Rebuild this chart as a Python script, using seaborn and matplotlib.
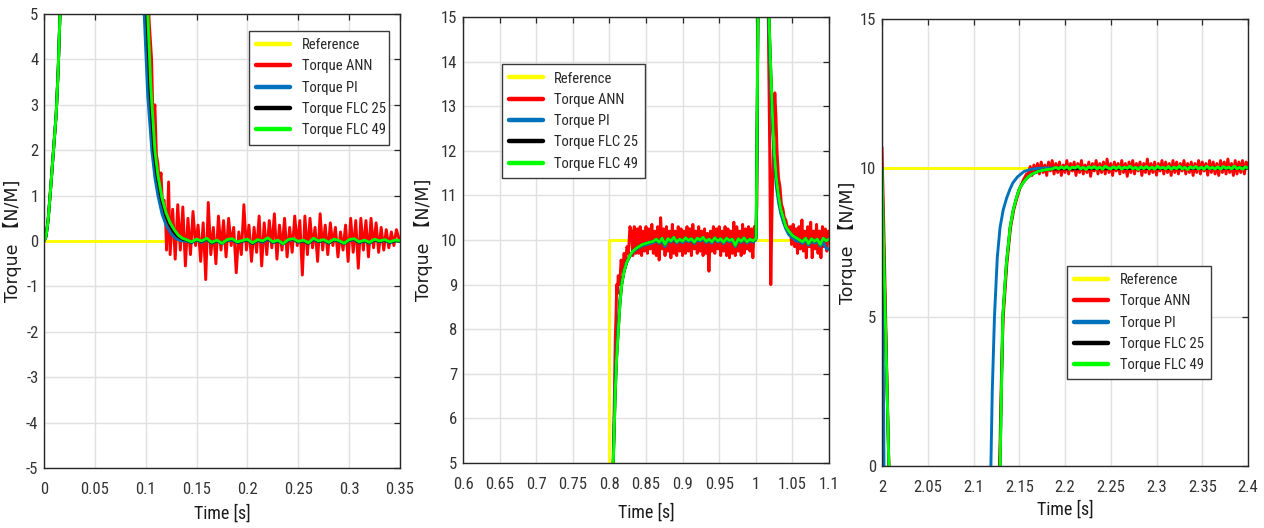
import numpy as np
import pandas as pd
import matplotlib
matplotlib.use("Agg")
import matplotlib.pyplot as plt
from matplotlib import font_manager as fm
import seaborn as sns

# ---------------------------------------------------------------- data
SERIES = ["Reference", "Torque ANN", "Torque PI", "Torque FLC 25", "Torque FLC 49"]
COLORS = {"Reference": "#FFFF00", "Torque ANN": "#FF0000", "Torque PI": "#0072BD",
          "Torque FLC 25": "#000000", "Torque FLC 49": "#00FF00"}

# ---- window 1: start-up, 0 .. 0.35 s
t_ref_1 = [0.0, 0.35]
ref_1 = [0.0, 0.0]

t_rise_1 = [0.000, 0.002, 0.004, 0.006, 0.008, 0.010, 0.012, 0.014, 0.016, 0.018, 0.030, 0.060]
y_rise_1 = [0.0, 0.1, 0.45, 1.0, 1.6, 2.2, 2.8, 3.8, 5.2, 7.0, 22.0, 25.0]

t_ann_dec_1 = [0.090, 0.100, 0.1035, 0.1058, 0.1072, 0.109, 0.1105, 0.112, 0.1135, 0.115,
               0.1165, 0.118, 0.1195, 0.1205, 0.1225]
ann_dec_1 = [14.0, 6.5, 4.8, 4.0, 2.6, 3.0, 1.9, 1.7, 1.2, 1.5, 0.8, 0.9, 0.5, -0.2, 1.3]
ann_noise_1_start, ann_noise_1_step = 0.124, 0.0025
ann_noise_1 = [-0.3, 0.7, -0.4, 0.8, -0.2, 0.75, -0.55, 0.5, -0.3, 0.65,
               -0.1, 0.35, -0.45, 0.4, -0.85, 0.85, -0.3, 0.3, -0.5, 0.55,
               -0.2, 0.45, -0.35, 0.5, -0.1, 0.3, -0.7, 0.2, -0.3, 0.8,
               -0.2, 0.35, -0.45, 0.3, -0.25, 0.55, -0.55, 0.4, -0.3, 0.45,
               -0.15, 0.6, -0.4, 0.35, -0.2, 0.5, -0.35, 0.3, -0.25, 0.55,
               -0.1, 0.45, -0.75, 0.55, -0.3, 0.5, -0.15, 0.3, -0.45, 0.6,
               -0.2, 0.35, -0.3, 0.4, -0.1, 0.3, -0.35, 0.2, -0.2, 0.35,
               -0.45, 0.5, -0.25, 0.45, -0.6, 0.5, -0.2, 0.45, -0.35, 0.5,
               -0.15, 0.4, -0.25, 0.3, -0.2, 0.25, -0.15, 0.2, -0.1, 0.25, 0.05]

t_pi_dec_1 = [0.088, 0.095, 0.0985, 0.102, 0.106, 0.109, 0.112, 0.116, 0.120, 0.125, 0.130, 0.135]
pi_dec_1 = [14.0, 7.0, 5.0, 3.2, 2.0, 1.4, 1.0, 0.6, 0.35, 0.16, 0.05, 0.0]
t_flc25_dec_1 = [0.089, 0.097, 0.101, 0.104, 0.108, 0.111, 0.115, 0.119, 0.123, 0.127, 0.131, 0.136]
flc25_dec_1 = [14.0, 7.0, 5.0, 3.4, 2.0, 1.45, 0.95, 0.6, 0.38, 0.22, 0.11, 0.04]
t_flc49_dec_1 = [0.090, 0.098, 0.102, 0.105, 0.109, 0.112, 0.116, 0.120, 0.124, 0.128, 0.132, 0.136]
flc49_dec_1 = [14.0, 7.0, 5.0, 3.4, 2.0, 1.45, 0.95, 0.62, 0.40, 0.25, 0.13, 0.06]

noise_1_start, noise_1_step = 0.140, 0.005
pi_noise_1 = [0.00, -0.04, 0.02, -0.03, 0.03, -0.05, 0.00, -0.06, 0.01, 0.02,
              -0.04, -0.01, 0.02, -0.06, 0.01, -0.03, 0.04, -0.04, 0.00, -0.07,
              0.01, 0.03, -0.03, 0.00, -0.05, 0.03, -0.02, 0.01, -0.05, 0.02,
              -0.01, -0.06, 0.01, 0.03, -0.04, 0.00, -0.05, 0.02, -0.02, 0.01,
              -0.04, 0.00, -0.01]
flc25_noise_1 = [0.02, -0.03, 0.03, -0.01, 0.05, -0.04, 0.01, -0.05, 0.02, 0.04,
                 -0.03, 0.00, 0.03, -0.05, 0.02, -0.01, 0.06, -0.03, 0.01, -0.06,
                 0.02, 0.04, -0.02, 0.01, -0.05, 0.05, -0.01, 0.02, -0.04, 0.03,
                 0.00, -0.05, 0.02, 0.04, -0.03, 0.01, -0.04, 0.03, -0.01, 0.02,
                 -0.03, 0.01, 0.00]
flc49_noise_1 = [0.03, -0.02, 0.04, 0.00, 0.06, -0.03, 0.02, -0.05, 0.03, 0.05,
                 -0.02, 0.01, 0.04, -0.04, 0.03, 0.00, 0.07, -0.02, 0.02, -0.06,
                 0.03, 0.05, -0.01, 0.02, -0.04, 0.06, 0.00, 0.03, -0.03, 0.04,
                 0.01, -0.05, 0.03, 0.05, -0.02, 0.02, -0.03, 0.04, 0.00, 0.03,
                 -0.02, 0.02, 0.01]

# ---- window 2: load step at 0.8 s and disturbance at 1.0 s
t_ref_2 = [0.6, 0.8, 0.8, 1.1]
ref_2 = [0.0, 0.0, 10.0, 10.0]

t_ann_rise_2 = [0.600, 0.8015, 0.8035, 0.806, 0.808, 0.809, 0.810, 0.811, 0.812, 0.814,
                0.816, 0.818, 0.820, 0.822, 0.824, 0.826, 0.828]
ann_rise_2 = [0.0, 0.0, 3.0, 5.6, 7.8, 8.3, 9.0, 8.8, 9.2, 9.0,
              9.55, 9.3, 9.7, 9.5, 9.85, 9.7, 10.3]
ann_noise_2a_start, ann_noise_2a_step = 0.830, 0.002
ann_noise_2a = [10.2, 9.65, 10.3, 9.7, 10.25, 9.7, 10.3, 9.65, 10.2, 9.75,
                10.3, 9.7, 10.25, 9.8, 10.35, 9.7, 10.2, 9.65, 10.3, 9.55,
                10.5, 9.8, 10.25, 9.65, 10.3, 9.75, 10.2, 9.6, 10.35, 9.7,
                10.2, 9.65, 10.3, 9.75, 10.25, 9.65, 10.2, 9.7, 10.3, 9.75,
                10.25, 9.65, 10.35, 9.8, 10.2, 9.7, 10.3, 9.75, 10.2, 9.65,
                10.25, 9.7, 10.15, 9.3, 10.2, 9.75, 10.3, 9.7, 10.25, 9.8,
                10.3, 9.65, 10.2, 9.75, 10.3, 9.65, 10.25, 9.6, 10.2, 9.7,
                10.4, 9.65, 10.3, 9.75, 10.2, 9.65, 10.35, 9.7, 10.25, 9.8,
                10.3, 9.75, 10.25, 9.6, 10.3, 10.1]
t_ann_spike_2 = [1.0015, 1.003, 1.006, 1.012, 1.0155, 1.017, 1.019, 1.0205, 1.022, 1.0245,
                 1.026, 1.0275, 1.029, 1.031, 1.033, 1.035, 1.037, 1.039, 1.041, 1.043, 1.045]
ann_spike_2 = [10.8, 15.5, 22.0, 22.0, 17.0, 15.0, 12.0, 9.0, 10.5, 12.5,
               13.3, 12.8, 12.0, 11.4, 11.2, 10.8, 10.7, 10.5, 10.45, 10.3, 10.25]
ann_noise_2b_start, ann_noise_2b_step = 1.047, 0.002
ann_noise_2b = [10.3, 9.9, 10.35, 9.85, 10.25, 9.7, 10.3, 9.8, 10.45, 9.75,
                10.2, 9.6, 10.3, 9.85, 10.4, 9.6, 10.2, 9.8, 10.35, 9.7,
                10.2, 9.6, 10.3, 9.85, 10.25, 9.75, 10.2]

t_rise_2 = [0.600, 0.8015, 0.8035, 0.8053, 0.808, 0.810, 0.8122, 0.8145, 0.8168, 0.820,
            0.8236, 0.828, 0.832, 0.837, 0.845, 0.855]
flc_rise_2 = [0.0, 0.0, 3.0, 5.0, 6.6, 7.4, 8.0, 8.6, 9.0, 9.3,
              9.5, 9.65, 9.75, 9.82, 9.9, 9.95]
pi_rise_2 = [0.0, 0.0, 3.2, 5.2, 6.8, 7.6, 8.2, 8.7, 9.05, 9.3,
             9.5, 9.63, 9.72, 9.8, 9.87, 9.92]
t_spike_2 = [1.0005, 1.002, 1.003, 1.006, 1.012, 1.016, 1.018, 1.020, 1.0225, 1.025,
             1.028, 1.031, 1.034, 1.0376, 1.041, 1.045, 1.050, 1.055]
flc_spike_2 = [10.1, 13.0, 15.5, 22.0, 22.0, 17.0, 15.0, 14.0, 12.9, 12.0,
               11.4, 11.0, 10.7, 10.5, 10.3, 10.2, 10.1, 10.05]
pi_spike_2 = [10.05, 12.8, 15.2, 22.0, 22.0, 16.5, 14.6, 13.6, 12.6, 11.8,
              11.2, 10.85, 10.6, 10.4, 10.25, 10.12, 10.05, 9.98]

noise_2a_start, noise_2a_step = 0.860, 0.004
flc49_noise_2a = [9.97, 10.02, 9.95, 10.04, 9.9, 10.03, 9.98, 10.06, 9.96, 10.02,
                  9.97, 10.05, 9.99, 10.03, 9.95, 10.04, 10.0, 10.06, 9.97, 10.02,
                  9.96, 10.05, 9.98, 10.03, 9.95, 10.04, 9.99, 10.02, 9.88, 10.03,
                  9.97, 10.05, 9.96, 10.02, 9.98, 10.03]
pi_noise_2a = [9.94, 9.99, 9.92, 10.0, 9.85, 10.0, 9.95, 10.02, 9.93, 9.99,
               9.94, 10.01, 9.96, 10.0, 9.92, 10.01, 9.97, 10.02, 9.94, 9.99,
               9.93, 10.02, 9.95, 10.0, 9.92, 10.01, 9.96, 9.99, 9.85, 10.0,
               9.94, 10.02, 9.93, 9.99, 9.95, 10.0]
noise_2b_start, noise_2b_step = 1.060, 0.004
flc49_noise_2b = [10.0, 9.96, 10.04, 9.92, 10.03, 9.97, 10.02, 9.9, 10.04, 9.98, 10.02]
pi_noise_2b = [9.97, 9.92, 10.0, 9.88, 9.99, 9.93, 9.98, 9.86, 9.95, 9.82, 9.78]

# ---- window 3: speed reversal, 2.0 .. 2.4 s
t_ref_3 = [2.0, 2.4]
ref_3 = [10.0, 10.0]

t_ann_tr_3 = [2.000, 2.002, 2.004, 2.006, 2.0075, 2.009, 2.060, 2.125, 2.1275, 2.129,
              2.1305, 2.1325, 2.1365, 2.1405, 2.144, 2.1475, 2.1505, 2.1545, 2.158]
ann_tr_3 = [10.7, 8.0, 5.0, 2.0, 0.0, -1.5, -5.0, -5.0, -1.0, 0.8,
            3.0, 5.0, 6.8, 8.0, 8.6, 9.0, 9.3, 9.6, 9.8]
ann_noise_3_start, ann_noise_3_step = 2.160, 0.002
ann_noise_3 = [9.8, 10.05, 9.75, 10.1, 9.85, 10.15, 9.8, 10.2, 9.85, 10.1,
               9.75, 10.2, 9.9, 10.25, 9.8, 10.15, 9.85, 10.2, 9.75, 10.1,
               9.85, 10.25, 9.8, 10.15, 9.9, 10.2, 9.75, 10.15, 9.85, 10.25,
               9.8, 10.1, 9.85, 10.2, 9.72, 10.15, 9.9, 10.25, 9.8, 10.15,
               9.85, 10.2, 9.8, 10.3, 9.85, 10.15, 9.75, 10.2, 9.9, 10.15,
               9.8, 10.25, 9.85, 10.15, 9.72, 10.2, 9.85, 10.25, 9.8, 10.15,
               9.9, 10.2, 9.75, 10.15, 9.85, 10.3, 9.8, 10.15, 9.85, 10.2,
               9.76, 10.15, 9.9, 10.25, 9.8, 10.2, 9.85, 10.15, 9.75, 10.25,
               9.85, 10.2, 9.8, 10.15, 9.9, 10.25, 9.8, 10.15, 9.85, 10.2,
               9.75, 10.15, 9.85, 10.25, 9.8, 10.2, 9.9, 10.15, 9.76, 10.25,
               9.85, 10.2, 9.8, 10.15, 9.75, 10.25, 9.85, 10.2, 9.8, 10.3,
               9.85, 10.15, 9.75, 10.25, 9.8, 10.2, 9.85, 10.25, 9.8, 10.2, 10.05]

t_pi_3 = [2.000, 2.001, 2.0022, 2.003, 2.060, 2.117, 2.119, 2.1205, 2.1229, 2.126,
          2.129, 2.1325, 2.1363, 2.140, 2.143, 2.148, 2.155, 2.162, 2.170, 2.180,
          2.200, 2.400]
pi_3 = [10.0, 5.0, 0.0, -2.0, -5.0, -2.0, 0.0, 2.5, 5.0, 7.0,
        8.0, 8.6, 9.0, 9.3, 9.5, 9.7, 9.88, 9.95, 9.99, 10.0,
        10.0, 10.0]

t_flc_tr_3 = [2.000, 2.002, 2.004, 2.006, 2.0075, 2.009, 2.060, 2.125, 2.1275, 2.129,
              2.1305, 2.132, 2.136, 2.140, 2.1435, 2.147, 2.150, 2.154, 2.158, 2.163,
              2.170, 2.178, 2.186]
flc_tr_3 = [10.0, 7.0, 4.5, 2.0, 0.0, -1.5, -5.0, -5.0, -1.0, 0.0,
            2.5, 5.0, 6.8, 8.0, 8.6, 9.0, 9.3, 9.5, 9.65, 9.78,
            9.88, 9.94, 9.97]
noise_3_start, noise_3_step = 2.190, 0.003
flc49_noise_3 = [10.02, 9.97, 10.04, 9.98, 10.05, 9.96, 10.03, 10.0, 10.06, 9.97,
                 10.02, 9.95, 10.04, 9.99, 10.05, 9.97, 10.03, 9.96, 10.06, 10.0,
                 9.97, 10.04, 9.98, 10.05, 9.96, 10.03, 9.99, 10.06, 9.97, 10.02,
                 9.95, 10.04, 9.98, 10.05, 9.97, 10.03, 9.96, 10.06, 9.99, 10.02,
                 9.97, 10.05, 9.96, 10.03, 9.98, 10.06, 9.97, 10.02, 9.95, 10.04,
                 9.99, 10.05, 9.97, 10.03, 9.96, 10.06, 9.98, 10.02, 9.97, 10.04,
                 9.96, 10.05, 9.99, 10.03, 9.97, 10.06, 9.98, 10.02, 9.96, 10.04, 10.0]
t_flc25_tail_3 = [2.400]
flc25_tail_3 = [10.0]


# ---------------------------------------------------------------- helpers
def sampled(start, step, values):
    """Time stamps for a uniformly sampled record."""
    return list(np.round(start + step * np.arange(len(values)), 6)), list(values)


def join(*pieces):
    t, y = [], []
    for pt, py in pieces:
        t += list(pt)
        y += list(py)
    return t, y


def frame(curves):
    rows = []
    for name, (t, y) in curves.items():
        rows.append(pd.DataFrame({"t": t, "torque": y, "series": name}))
    return pd.concat(rows, ignore_index=True)


def narrow_family():
    """Pick a condensed sans family if one is installed."""
    for fam in ["Liberation Sans Narrow", "Roboto Condensed", "Open Sans Condensed",
                "DejaVu Sans Condensed", "Noto Sans Condensed", "Arial Narrow"]:
        try:
            fm.findfont(fm.FontProperties(family=fam), fallback_to_default=False)
            return fam, None
        except ValueError:
            pass
    path = fm.findfont(fm.FontProperties(family="DejaVu Sans", stretch="condensed"))
    if "condensed" in path.lower():
        return "DejaVu Sans", "condensed"
    return None, None


panel_1 = frame({
    "Reference": (t_ref_1, ref_1),
    "Torque ANN": join((t_rise_1, y_rise_1), (t_ann_dec_1, ann_dec_1),
                       sampled(ann_noise_1_start, ann_noise_1_step, ann_noise_1)),
    "Torque PI": join((t_rise_1, y_rise_1), (t_pi_dec_1, pi_dec_1),
                      sampled(noise_1_start, noise_1_step, pi_noise_1)),
    "Torque FLC 25": join((t_rise_1, y_rise_1), (t_flc25_dec_1, flc25_dec_1),
                          sampled(noise_1_start, noise_1_step, flc25_noise_1)),
    "Torque FLC 49": join((t_rise_1, y_rise_1), (t_flc49_dec_1, flc49_dec_1),
                          sampled(noise_1_start, noise_1_step, flc49_noise_1)),
})

panel_2 = frame({
    "Reference": (t_ref_2, ref_2),
    "Torque ANN": join((t_ann_rise_2, ann_rise_2),
                       sampled(ann_noise_2a_start, ann_noise_2a_step, ann_noise_2a),
                       (t_ann_spike_2, ann_spike_2),
                       sampled(ann_noise_2b_start, ann_noise_2b_step, ann_noise_2b)),
    "Torque PI": join((t_rise_2, pi_rise_2),
                      sampled(noise_2a_start, noise_2a_step, pi_noise_2a),
                      (t_spike_2, pi_spike_2),
                      sampled(noise_2b_start, noise_2b_step, pi_noise_2b)),
    "Torque FLC 25": join((t_rise_2, flc_rise_2),
                          sampled(noise_2a_start, noise_2a_step, flc49_noise_2a),
                          (t_spike_2, flc_spike_2),
                          sampled(noise_2b_start, noise_2b_step, flc49_noise_2b)),
    "Torque FLC 49": join((t_rise_2, flc_rise_2),
                          sampled(noise_2a_start, noise_2a_step, flc49_noise_2a),
                          (t_spike_2, flc_spike_2),
                          sampled(noise_2b_start, noise_2b_step, flc49_noise_2b)),
})

panel_3 = frame({
    "Reference": (t_ref_3, ref_3),
    "Torque ANN": join((t_ann_tr_3, ann_tr_3),
                       sampled(ann_noise_3_start, ann_noise_3_step, ann_noise_3)),
    "Torque PI": (t_pi_3, pi_3),
    "Torque FLC 25": join((t_flc_tr_3, flc_tr_3), (t_flc25_tail_3, flc25_tail_3)),
    "Torque FLC 49": join((t_flc_tr_3, flc_tr_3),
                          sampled(noise_3_start, noise_3_step, flc49_noise_3)),
})

# ---------------------------------------------------------------- figure
sns.set_theme(style="white")
fam, stretch = narrow_family()
if fam is None:
    plt.rcParams["font.family"] = ["Liberation Sans", "DejaVu Sans"]
    TICK_SIZE, LEG_SIZE, XLAB_SIZE = 10.5, 10.0, 12.0
else:
    plt.rcParams["font.family"] = [fam, "DejaVu Sans"]
    if stretch:
        plt.rcParams["font.stretch"] = stretch
    TICK_SIZE, LEG_SIZE, XLAB_SIZE = 12.0, 10.5, 13.0

INK = "#262626"
TICK_INK = "#333333"
fig = plt.figure(figsize=(12.64, 5.28), dpi=100)

panels = [
    dict(data=panel_1, rect=[44 / 1264, 1 - 468 / 528, 356 / 1264, 454 / 528],
         xlim=(0.0, 0.35), xticks=np.round(np.arange(0, 0.351, 0.05), 2),
         ylim=(-5, 5), yticks=np.arange(-5, 6, 1),
         leg=(0.576, 0.963, 0.393), ylab_x=-0.062, xlab_y=-0.079),
    dict(data=panel_2, rect=[463 / 1264, 1 - 463 / 528, 366 / 1264, 446 / 528],
         xlim=(0.6, 1.1), xticks=np.round(np.arange(0.6, 1.101, 0.05), 2),
         ylim=(5, 15), yticks=np.arange(5, 16, 1),
         leg=(0.106, 0.894, 0.392), ylab_x=-0.082, xlab_y=-0.090),
    dict(data=panel_3, rect=[882 / 1264, 1 - 466 / 528, 366 / 1264, 447 / 528],
         xlim=(2.0, 2.4), xticks=np.round(np.arange(2.0, 2.401, 0.05), 2),
         ylim=(0, 15), yticks=np.arange(0, 16, 5),
         leg=(0.506, 0.448, 0.393), ylab_x=-0.068, xlab_y=-0.076),
]


def tick_text(v):
    return f"{v:.2f}".rstrip("0").rstrip(".")


for p in panels:
    ax = fig.add_axes(p["rect"])
    df = p["data"]
    for name in SERIES:
        sub = df[df["series"] == name]
        sns.lineplot(data=sub, x="t", y="torque", ax=ax, color=COLORS[name],
                     linewidth=2.1, estimator=None, sort=False, label=name)

    ax.set_xlim(*p["xlim"])
    ax.set_ylim(*p["ylim"])
    ax.set_xticks(p["xticks"])
    ax.set_xticklabels([tick_text(v) for v in p["xticks"]])
    ax.set_yticks(p["yticks"])
    ax.set_yticklabels([tick_text(v) for v in p["yticks"]])

    ax.grid(True, color="#e0e0e0", linewidth=1.0)
    ax.set_axisbelow(True)
    for sp in ax.spines.values():
        sp.set_color(INK)
        sp.set_linewidth(1.0)
    ax.tick_params(direction="in", top=True, right=True, length=4, width=0.9,
                   color=INK, labelcolor=TICK_INK, labelsize=TICK_SIZE)
    ax.tick_params(axis="x", pad=10)
    ax.tick_params(axis="y", pad=4)

    ax.set_xlabel("Time [s]", fontsize=XLAB_SIZE, color="#1a1a1a")
    ax.xaxis.set_label_coords(0.5, p["xlab_y"])
    ax.set_ylabel("Torque \u3010N/M]", fontsize=12.5, color="#1a1a1a",
                  family=["DejaVu Sans", "Noto Sans CJK SC"], stretch="normal")
    ax.yaxis.set_label_coords(p["ylab_x"], 0.5)

    handles, labels = ax.get_legend_handles_labels()
    x0, top, w = p["leg"]
    leg = ax.legend(handles, labels, loc="upper left", bbox_to_anchor=(x0, 0, w, top),
                    mode="expand", borderaxespad=0, fontsize=LEG_SIZE, frameon=True,
                    fancybox=False, framealpha=1, edgecolor="#3a3a3a",
                    handlelength=2.3, handletextpad=0.8, labelspacing=0.5,
                    borderpad=0.5)
    leg.get_frame().set_linewidth(1.0)
    for line in leg.get_lines():
        line.set_linewidth(3.2)

fig.savefig("out.png", dpi=100, facecolor="white")
